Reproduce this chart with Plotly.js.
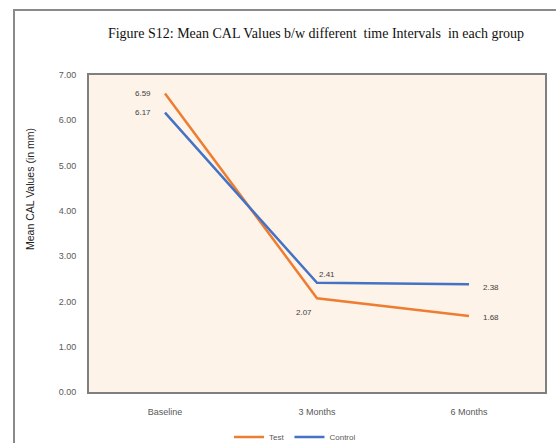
<!DOCTYPE html>
<html>
<head>
<meta charset="utf-8">
<script src="https://cdn.plot.ly/plotly-3.0.1.min.js"></script>
<style>html,body{margin:0;padding:0;background:#fff;}#chart{width:556px;height:443px;}</style>
</head>
<body>
<div id="chart"></div>
<script>
const categories = ['Baseline', '3 Months', '6 Months'];
const testValues = [6.59, 2.07, 1.68];
const controlValues = [6.17, 2.41, 2.38];
const seriesNames = ['Test', 'Control'];
const yTicks = [0, 1, 2, 3, 4, 5, 6, 7];

const colors = ['#ED7D31', '#4472C4'];
const labelFont = {family: 'Liberation Sans, Arial, sans-serif', size: 8, color: '#404040'};

const traces = [testValues, controlValues].map((vals, i) => ({
  x: categories, y: vals, name: seriesNames[i], type: 'scatter', mode: 'lines',
  line: {color: colors[i], width: 2.5}
}));

// label offsets (pixels) per point
const testShift = [[-22, 0], [-13, -14], [22, -2]];
const controlShift = [[-22, 0], [10, 8], [22, -3]];

const annotations = [];
[[testValues, testShift], [controlValues, controlShift]].forEach(([vals, shifts]) => {
  vals.forEach((v, j) => {
    annotations.push({
      x: categories[j], y: v, xref: 'x', yref: 'y', text: v.toFixed(2),
      showarrow: false, xanchor: 'center', yanchor: 'middle',
      xshift: shifts[j][0], yshift: shifts[j][1], font: labelFont
    });
  });
});

annotations.push({
  text: 'Mean CAL Values (in mm)', xref: 'paper', yref: 'paper',
  x: (30 - 89) / 456, y: (392 - 189) / 317, textangle: -90,
  showarrow: false, xanchor: 'center', yanchor: 'middle',
  font: {family: 'Liberation Sans, Arial, sans-serif', size: 10.5, color: '#222'}
});

const layout = {
  width: 556, height: 443,
  margin: {l: 89, r: 11, t: 75, b: 51, autoexpand: false},
  paper_bgcolor: '#ffffff',
  plot_bgcolor: '#FEF3E8',
  font: {family: 'Liberation Sans, Arial, sans-serif', size: 9, color: '#595959'},
  title: {
    text: 'Figure S12: Mean CAL Values b/w different  time Intervals  in each group',
    font: {family: 'Liberation Serif, Times New Roman, serif', size: 14, color: '#111'},
    x: 316 / 556, xanchor: 'center', y: 1 - 33 / 443, yanchor: 'middle'
  },
  xaxis: {
    type: 'category', range: [-0.5, 2.5],
    showline: true, mirror: true, linecolor: '#7f7f7f', linewidth: 2,
    showgrid: false, zeroline: false, ticks: '', ticklabelstandoff: 10,
    tickfont: {size: 9, color: '#595959'}
  },
  yaxis: {
    range: [0, 7], tickvals: yTicks, tickformat: '.2f',
    showline: true, mirror: true, linecolor: '#7f7f7f', linewidth: 2,
    showgrid: false, zeroline: false, ticks: '', ticklabelstandoff: 9,
    tickfont: {size: 9, color: '#595959'}
  },
  showlegend: true,
  legend: {
    orientation: 'h', x: (295 - 89) / 456, xanchor: 'center', y: -(437 - 392) / 317, yanchor: 'middle',
    font: {size: 8, color: '#595959'}, itemwidth: 30, bgcolor: 'rgba(0,0,0,0)'
  },
  annotations: annotations,
  shapes: [{
    type: 'rect', xref: 'paper', yref: 'paper',
    x0: (14 - 89) / 456, x1: 1.2, y0: -0.5, y1: (392 - 10) / 317,
    line: {color: '#8a8a8a', width: 2}, fillcolor: 'rgba(0,0,0,0)', layer: 'below'
  }]
};

Plotly.newPlot('chart', traces, layout, {displayModeBar: false, staticPlot: true});
</script>
</body>
</html>
